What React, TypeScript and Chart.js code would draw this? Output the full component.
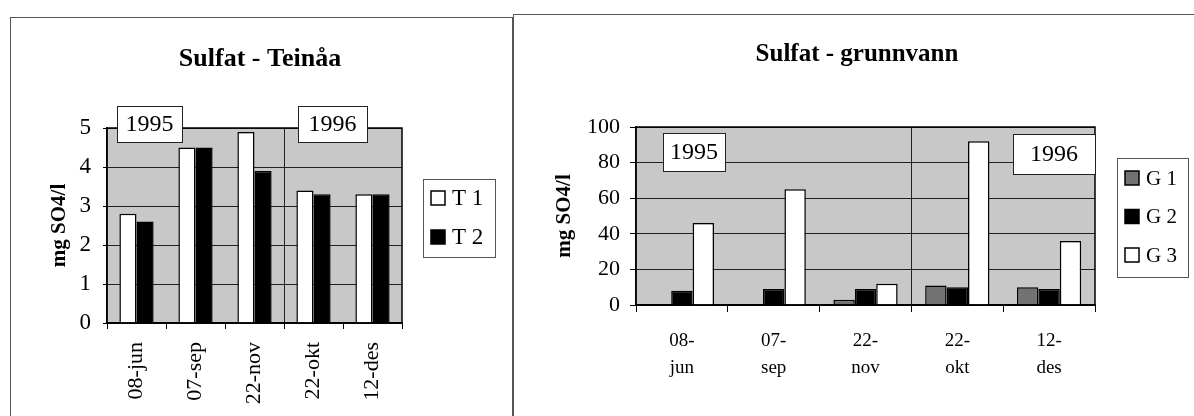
import React, { useEffect, useRef } from 'react';
import { Chart, registerables } from 'chart.js';

Chart.register(...registerables);

const FONT = "'Liberation Serif', 'Times New Roman', serif";

// ---- Data: Sulfat - Teinåa ----
const teinaaTitle = 'Sulfat - Teinåa';
const teinaaCategories = ['08-jun', '07-sep', '22-nov', '22-okt', '12-des'];
const teinaaSeriesNames = ['T 1', 'T 2'];
const teinaaT1 = [2.8, 4.5, 4.9, 3.4, 3.3];
const teinaaT2 = [2.6, 4.5, 3.9, 3.3, 3.3];
const teinaaYMax = 5;
const teinaaYStep = 1;

// ---- Data: Sulfat - grunnvann ----
const grunnTitle = 'Sulfat - grunnvann';
const grunnCategories = [
  ['08-', 'jun'],
  ['07-', 'sep'],
  ['22-', 'nov'],
  ['22-', 'okt'],
  ['12-', 'des'],
];
const grunnSeriesNames = ['G 1', 'G 2', 'G 3'];
const grunnG1 = [null, null, 3, 11, 10];
const grunnG2 = [8, 9, 9, 10, 9];
const grunnG3 = [46, 65, 12, 92, 36];
const grunnYMax = 100;
const grunnYStep = 20;

const yearLabels = ['1995', '1996'];
const yAxisTitle = 'mg SO4/l';

const PLOT_BG = '#c8c8c8';
const G1_COLOR = '#727272';

const decorPlugin = {
  id: 'decor',
  beforeDraw(chart: any, _a: any, o: any) {
    const { ctx, chartArea: a } = chart;
    ctx.save();
    ctx.fillStyle = o.plotColor;
    ctx.fillRect(a.left, a.top, a.right - a.left, a.bottom - a.top);
    ctx.restore();
  },
  afterDraw(chart: any, _a: any, o: any) {
    const { ctx, chartArea: a } = chart;
    ctx.save();
    ctx.strokeStyle = '#000';
    ctx.lineWidth = 1.5;
    ctx.strokeRect(a.left, a.top, a.right - a.left, a.bottom - a.top);

    // title
    ctx.fillStyle = '#000';
    ctx.font = `bold ${o.titleSize}px ${FONT}`;
    ctx.textAlign = 'center';
    ctx.textBaseline = 'middle';
    ctx.fillText(o.title, o.titleX, o.titleY);

    // year boxes
    ctx.font = `${o.yearSize}px ${FONT}`;
    o.years.forEach((b: any) => {
      ctx.fillStyle = '#fff';
      ctx.fillRect(b.x, b.y, b.w, b.h);
      ctx.lineWidth = 1;
      ctx.strokeStyle = '#222';
      ctx.strokeRect(b.x + 0.5, b.y + 0.5, b.w, b.h);
      ctx.fillStyle = '#000';
      ctx.fillText(b.text, b.x + b.w / 2, b.y + b.h / 2 + 1);
    });

    // legend
    const L = o.legend;
    ctx.fillStyle = '#fff';
    ctx.fillRect(L.x, L.y, L.w, L.h);
    ctx.lineWidth = 1;
    ctx.strokeStyle = '#555';
    ctx.strokeRect(L.x + 0.5, L.y + 0.5, L.w, L.h);
    ctx.font = `${L.size}px ${FONT}`;
    ctx.textAlign = 'left';
    chart.data.datasets.forEach((ds: any, i: number) => {
      const cy = L.firstY + i * L.gap;
      ctx.fillStyle = ds.backgroundColor;
      ctx.fillRect(L.swatchX, cy - 7, 14, 14);
      ctx.strokeStyle = '#000';
      ctx.lineWidth = 1.5;
      ctx.strokeRect(L.swatchX, cy - 7, 14, 14);
      ctx.fillStyle = '#000';
      ctx.fillText(ds.label, L.textX, cy + 1);
    });
    ctx.restore();
  },
};

function makeOptions(p: any) {
  return {
    responsive: false,
    animation: false,
    layout: { padding: { left: 0, top: p.top, right: p.right, bottom: 0 } },
    plugins: {
      legend: { display: false },
      title: { display: false },
      tooltip: { enabled: false },
      decor: p.decor,
    },
    scales: {
      x: {
        offset: true,
        grid: {
          offset: true,
          drawOnChartArea: true,
          color: (c: any) => (c.index === 3 ? '#222' : 'rgba(0,0,0,0)'),
          tickColor: '#000',
          tickLength: p.xTickLen,
          lineWidth: 1,
        },
        border: { display: true, color: '#000', width: 1.5 },
        ticks: {
          color: '#000',
          font: { family: FONT, size: p.xFont, lineHeight: p.xLineHeight },
          padding: p.xPad,
          minRotation: p.rot,
          maxRotation: p.rot,
          autoSkip: false,
        },
        afterFit: (s: any) => {
          s.height = p.xHeight;
        },
      },
      y: {
        min: 0,
        max: p.yMax,
        ticks: {
          stepSize: p.yStep,
          color: '#000',
          font: { family: FONT, size: p.yFont },
          padding: p.yPad,
        },
        grid: { color: '#222', lineWidth: 1, tickLength: p.yTickLen, tickColor: '#000' },
        border: { display: true, color: '#000', width: 1.5 },
        title: {
          display: true,
          text: yAxisTitle,
          color: '#000',
          font: { family: FONT, size: p.yTitleSize, weight: 'bold' },
          padding: { top: p.yTitlePad, bottom: 0 },
        },
        afterFit: (s: any) => {
          s.width = p.yWidth;
        },
      },
    },
  };
}

export default function App() {
  const leftRef = useRef<HTMLCanvasElement>(null);
  const rightRef = useRef<HTMLCanvasElement>(null);

  useEffect(() => {
    document.documentElement.style.overflow = 'hidden';
    const left = new Chart(leftRef.current as HTMLCanvasElement, {
      type: 'bar',
      data: {
        labels: teinaaCategories,
        datasets: [
          {
            label: teinaaSeriesNames[0],
            data: teinaaT1,
            backgroundColor: '#ffffff',
            borderColor: '#000',
            borderWidth: 1.5,
            categoryPercentage: 0.58,
            barPercentage: 1,
          },
          {
            label: teinaaSeriesNames[1],
            data: teinaaT2,
            backgroundColor: '#000000',
            borderColor: '#000',
            borderWidth: 1.5,
            categoryPercentage: 0.58,
            barPercentage: 1,
          },
        ],
      },
      options: makeOptions({
        top: 110,
        right: 110,
        xHeight: 93,
        yWidth: 96,
        xTickLen: 6,
        xPad: 13,
        xFont: 22,
        xLineHeight: 1.2,
        rot: 90,
        yMax: teinaaYMax,
        yStep: teinaaYStep,
        yFont: 23,
        yPad: 12,
        yTickLen: 4,
        yTitleSize: 21,
        yTitlePad: 36,
        decor: {
          plotColor: PLOT_BG,
          title: teinaaTitle,
          titleSize: 26,
          titleX: 249,
          titleY: 41,
          yearSize: 24,
          years: [
            { text: yearLabels[0], x: 106, y: 88, w: 65, h: 36 },
            { text: yearLabels[1], x: 287, y: 88, w: 69, h: 36 },
          ],
          legend: { x: 412, y: 161, w: 72, h: 78, size: 23, swatchX: 420, textX: 441, firstY: 180, gap: 39 },
        },
      }) as any,
      plugins: [decorPlugin as any],
    });

    const right = new Chart(rightRef.current as HTMLCanvasElement, {
      type: 'bar',
      data: {
        labels: grunnCategories,
        datasets: [
          {
            label: grunnSeriesNames[0],
            data: grunnG1,
            backgroundColor: G1_COLOR,
            borderColor: '#000',
            borderWidth: 1.5,
            categoryPercentage: 0.7,
            barPercentage: 1,
          },
          {
            label: grunnSeriesNames[1],
            data: grunnG2,
            backgroundColor: '#000000',
            borderColor: '#000',
            borderWidth: 1.5,
            categoryPercentage: 0.7,
            barPercentage: 1,
          },
          {
            label: grunnSeriesNames[2],
            data: grunnG3,
            backgroundColor: '#ffffff',
            borderColor: '#000',
            borderWidth: 1.5,
            categoryPercentage: 0.7,
            barPercentage: 1,
          },
        ],
      },
      options: makeOptions({
        top: 112,
        right: 95,
        xHeight: 111,
        yWidth: 122,
        xTickLen: 7,
        xPad: 16,
        xFont: 19,
        xLineHeight: 1.42,
        rot: 0,
        yMax: grunnYMax,
        yStep: grunnYStep,
        yFont: 22,
        yPad: 10,
        yTickLen: 6,
        yTitleSize: 21,
        yTitlePad: 38,
        decor: {
          plotColor: PLOT_BG,
          title: grunnTitle,
          titleSize: 25,
          titleX: 343,
          titleY: 40,
          yearSize: 24,
          years: [
            { text: yearLabels[0], x: 149, y: 118, w: 62, h: 38 },
            { text: yearLabels[1], x: 499, y: 119, w: 82, h: 40 },
          ],
          legend: { x: 603, y: 143, w: 71, h: 119, size: 21, swatchX: 611, textX: 632, firstY: 163, gap: 38.5 },
        },
      }) as any,
      plugins: [decorPlugin as any],
    });

    return () => {
      left.destroy();
      right.destroy();
    };
  }, []);

  return (
    <div>
      <div
        style={{
          position: 'absolute',
          left: 10,
          top: 17,
          width: 501,
          height: 398,
          borderLeft: '1px solid #555',
          borderTop: '1px solid #555',
          borderRight: '1px solid #555',
        }}
      >
        <canvas ref={leftRef} width={501} height={398} style={{ display: 'block' }} />
      </div>
      <div
        style={{
          position: 'absolute',
          left: 513,
          top: 14,
          width: 681,
          height: 401,
          borderLeft: '1px solid #555',
          borderTop: '1px solid #555',
        }}
      >
        <canvas ref={rightRef} width={676} height={401} style={{ display: 'block' }} />
      </div>
    </div>
  );
}
